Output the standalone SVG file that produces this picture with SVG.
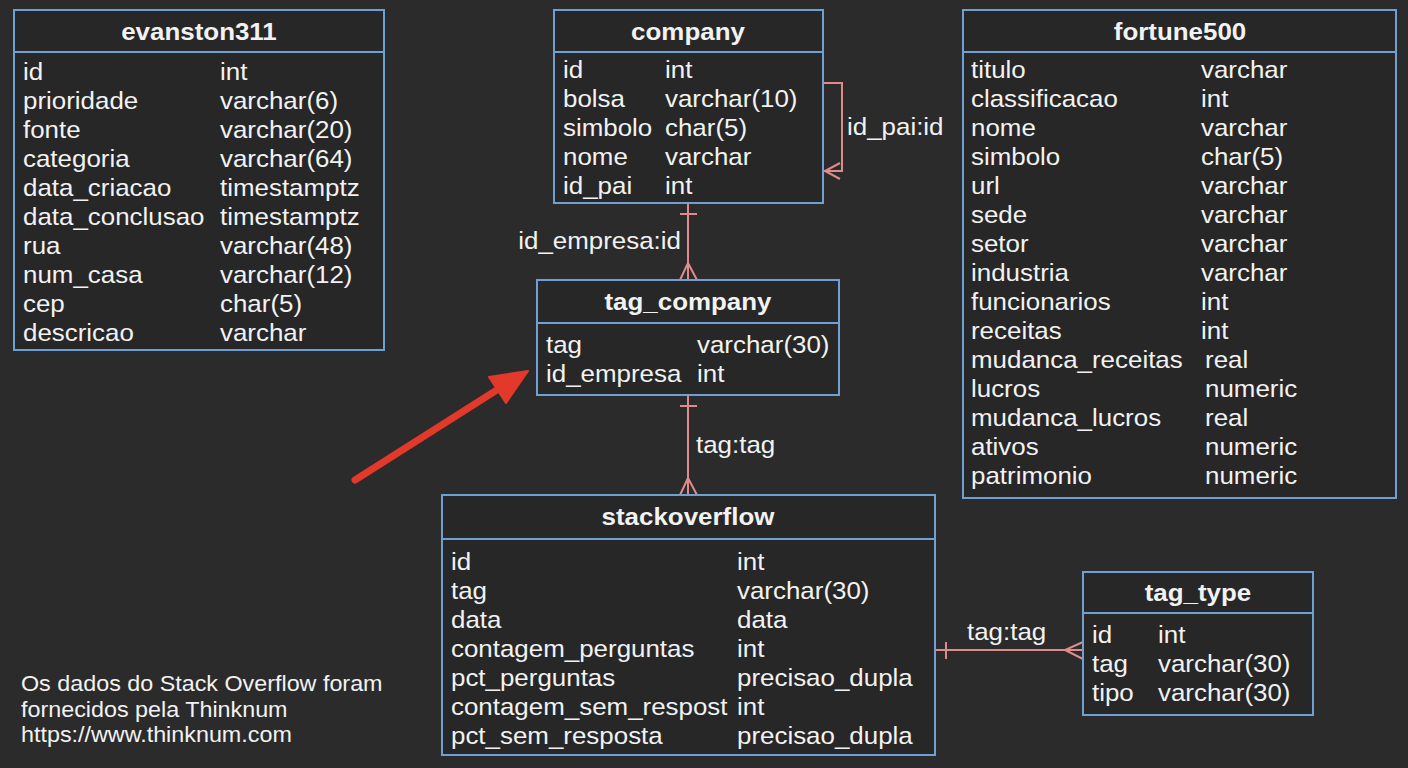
<svg xmlns="http://www.w3.org/2000/svg" width="1408" height="768" viewBox="0 0 1408 768">
<style>
text { font-family: "Liberation Sans", Arial, sans-serif; fill: #f2f2f2; font-size: 24px; transform-box: fill-box; transform-origin: 0% 50%; transform: scaleX(1.08); }
text.h { font-weight: bold; text-anchor: middle; transform-origin: 50% 50%; }
text.foot { font-size: 21.6px; }
text.lbl { font-size: 24px; }
text.end { text-anchor: end; transform-origin: 100% 50%; }
.box { fill: #272727; stroke: #6f9fd3; stroke-width: 2; }
.sep { stroke: #6f9fd3; stroke-width: 2; }
.conn { fill: none; stroke: #e08b8b; stroke-width: 2; }
</style>
<rect width="1408" height="768" fill="#2b2b2b"/>

<g id="connectors">
  <!-- company self loop -->
  <path class="conn" d="M823,83 H842 V171 H823"/>
  <path class="conn" d="M840,163 L825,171 L840,179"/>
  <text class="lbl" x="847" y="135">id_pai:id</text>
  <!-- company -> tag_company -->
  <path class="conn" d="M688,203 V280"/>
  <path class="conn" d="M680,214 H697"/>
  <path class="conn" d="M680,280 L688,263 L697,280"/>
  <text class="lbl end" x="681" y="249">id_empresa:id</text>
  <!-- tag_company -> stackoverflow -->
  <path class="conn" d="M688,395 V495"/>
  <path class="conn" d="M680,406 H697"/>
  <path class="conn" d="M680,495 L688,478 L697,495"/>
  <text class="lbl" x="696" y="453">tag:tag</text>
  <!-- stackoverflow -> tag_type -->
  <path class="conn" d="M935,650 H1083"/>
  <path class="conn" d="M946,642 V659"/>
  <path class="conn" d="M1083,642 L1065,650 L1083,659"/>
  <text class="lbl" x="967" y="640">tag:tag</text>
</g>

<g id="evanston311">
  <rect class="box" x="14" y="10" width="370" height="340"/>
  <line class="sep" x1="14" y1="52" x2="384" y2="52"/>
  <text class="h" x="199" y="40">evanston311</text>
  <text x="23" y="80">id</text><text x="220" y="80">int</text>
  <text x="23" y="109">prioridade</text><text x="220" y="109">varchar(6)</text>
  <text x="23" y="138">fonte</text><text x="220" y="138">varchar(20)</text>
  <text x="23" y="167">categoria</text><text x="220" y="167">varchar(64)</text>
  <text x="23" y="196">data_criacao</text><text x="220" y="196">timestamptz</text>
  <text x="23" y="225">data_conclusao</text><text x="220" y="225">timestamptz</text>
  <text x="23" y="254">rua</text><text x="220" y="254">varchar(48)</text>
  <text x="23" y="283">num_casa</text><text x="220" y="283">varchar(12)</text>
  <text x="23" y="312">cep</text><text x="220" y="312">char(5)</text>
  <text x="23" y="341">descricao</text><text x="220" y="341">varchar</text>
</g>

<g id="company">
  <rect class="box" x="554" y="10" width="269" height="193"/>
  <line class="sep" x1="554" y1="52" x2="823" y2="52"/>
  <text class="h" x="688" y="40">company</text>
  <text x="563" y="78">id</text><text x="665" y="78">int</text>
  <text x="563" y="107">bolsa</text><text x="665" y="107">varchar(10)</text>
  <text x="563" y="136">simbolo</text><text x="665" y="136">char(5)</text>
  <text x="563" y="165">nome</text><text x="665" y="165">varchar</text>
  <text x="563" y="194">id_pai</text><text x="665" y="194">int</text>
</g>

<g id="tag_company">
  <rect class="box" x="537" y="280" width="302" height="115"/>
  <line class="sep" x1="537" y1="323" x2="839" y2="323"/>
  <text class="h" x="688" y="310">tag_company</text>
  <text x="546" y="353">tag</text><text x="697" y="353">varchar(30)</text>
  <text x="546" y="382">id_empresa</text><text x="697" y="382">int</text>
</g>

<g id="stackoverflow">
  <rect class="box" x="442" y="495" width="493" height="260"/>
  <line class="sep" x1="442" y1="539" x2="935" y2="539"/>
  <text class="h" x="688" y="525">stackoverflow</text>
  <text x="451" y="570">id</text><text x="737" y="570">int</text>
  <text x="451" y="599">tag</text><text x="737" y="599">varchar(30)</text>
  <text x="451" y="628">data</text><text x="737" y="628">data</text>
  <text x="451" y="657">contagem_perguntas</text><text x="737" y="657">int</text>
  <text x="451" y="686">pct_perguntas</text><text x="737" y="686">precisao_dupla</text>
  <text x="451" y="715">contagem_sem_respost</text><text x="737" y="715">int</text>
  <text x="451" y="744">pct_sem_resposta</text><text x="737" y="744">precisao_dupla</text>
</g>

<g id="tag_type">
  <rect class="box" x="1083" y="572" width="230" height="143"/>
  <line class="sep" x1="1083" y1="613" x2="1313" y2="613"/>
  <text class="h" x="1198" y="601">tag_type</text>
  <text x="1092" y="643">id</text><text x="1158" y="643">int</text>
  <text x="1092" y="672">tag</text><text x="1158" y="672">varchar(30)</text>
  <text x="1092" y="701">tipo</text><text x="1158" y="701">varchar(30)</text>
</g>

<g id="fortune500">
  <rect class="box" x="963" y="10" width="433" height="488"/>
  <line class="sep" x1="963" y1="52" x2="1396" y2="52"/>
  <text class="h" x="1180" y="40">fortune500</text>
  <text x="971" y="78">titulo</text><text x="1201" y="78">varchar</text>
  <text x="971" y="107">classificacao</text><text x="1201" y="107">int</text>
  <text x="971" y="136">nome</text><text x="1201" y="136">varchar</text>
  <text x="971" y="165">simbolo</text><text x="1201" y="165">char(5)</text>
  <text x="971" y="194">url</text><text x="1201" y="194">varchar</text>
  <text x="971" y="223">sede</text><text x="1201" y="223">varchar</text>
  <text x="971" y="252">setor</text><text x="1201" y="252">varchar</text>
  <text x="971" y="281">industria</text><text x="1201" y="281">varchar</text>
  <text x="971" y="310">funcionarios</text><text x="1201" y="310">int</text>
  <text x="971" y="339">receitas</text><text x="1201" y="339">int</text>
  <text x="971" y="368">mudanca_receitas</text><text x="1205" y="368">real</text>
  <text x="971" y="397">lucros</text><text x="1205" y="397">numeric</text>
  <text x="971" y="426">mudanca_lucros</text><text x="1205" y="426">real</text>
  <text x="971" y="455">ativos</text><text x="1205" y="455">numeric</text>
  <text x="971" y="484">patrimonio</text><text x="1205" y="484">numeric</text>
</g>

<g id="red_arrow">
  <line x1="355" y1="480" x2="500" y2="388" stroke="#e2392a" stroke-width="7" stroke-linecap="round"/>
  <polygon points="528,371 489,377 506,403" fill="#e2392a" stroke="#e2392a" stroke-width="2" stroke-linejoin="round"/>
</g>

<g id="footnote">
  <text class="foot" x="21" y="691">Os dados do Stack Overflow foram</text>
  <text class="foot" x="21" y="717">fornecidos pela Thinknum</text>
  <text class="foot" x="21" y="742">https://www.thinknum.com</text>
</g>
</svg>
